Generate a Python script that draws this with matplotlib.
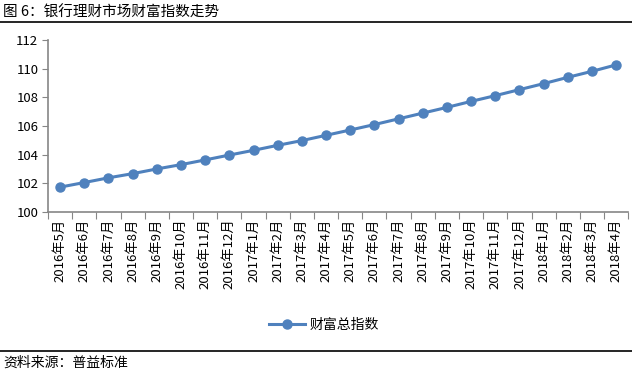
import matplotlib
matplotlib.use("Agg")
import matplotlib.pyplot as plt
from matplotlib.lines import Line2D

plt.rcParams['font.family'] = ['Noto Sans CJK SC', 'DejaVu Sans']

# 月份标签
months = (["2016年%d月" % m for m in range(5, 13)]
          + ["2017年%d月" % m for m in range(1, 13)]
          + ["2018年%d月" % m for m in range(1, 5)])

# 财富总指数
wealth_index = [101.73, 102.05, 102.38, 102.67, 103.00, 103.30, 103.63, 103.97,
                104.30, 104.65, 104.98, 105.35, 105.72, 106.10, 106.50, 106.90,
                107.30, 107.72, 108.12, 108.54, 108.96, 109.40, 109.82, 110.27]

blue = "#4F81BD"
axis_gray = "#868686"

fig = plt.figure(figsize=(6.32, 3.75), dpi=100)
ax = fig.add_axes([0.076, 0.435, 0.918, 0.458])

x = list(range(len(months)))
ax.plot(x, wealth_index, color=blue, linewidth=2.2, marker="o", markersize=6.5,
        label="财富总指数")

ax.set_xlim(-0.5, len(months) - 0.5)
ax.set_ylim(100, 112)
ax.set_yticks(range(100, 113, 2))
ax.tick_params(axis="y", labelsize=9.5, length=4, color=axis_gray, pad=3)

# x轴：刻度在类别之间，标签在类别中心
ax.set_xticks([i - 0.5 for i in range(len(months) + 1)])
ax.set_xticklabels([])
ax.set_xticks(x, minor=True)
ax.set_xticklabels(months, minor=True, rotation=90, fontsize=9.5)
ax.tick_params(axis="x", which="major", length=5, color=axis_gray)
ax.tick_params(axis="x", which="minor", length=0, pad=5)

for side in ["top", "right"]:
    ax.spines[side].set_visible(False)
for side in ["left", "bottom"]:
    ax.spines[side].set_color(axis_gray)
    ax.spines[side].set_linewidth(1.2)

ax.legend(loc="center", bbox_to_anchor=(0.476, -0.657), frameon=False,
          fontsize=10, handlelength=2.6, handletextpad=0.3)

# 标题和来源
fig.text(0.005, 0.967, "图 6：银行理财市场财富指数走势", fontsize=10.5, va="center", ha="left")
fig.add_artist(Line2D([0, 1], [0.941, 0.941], color="black", linewidth=1.2))
fig.add_artist(Line2D([0, 1], [0.064, 0.064], color="black", linewidth=1.2))
fig.text(0.005, 0.032, "资料来源：普益标准", fontsize=10, va="center", ha="left")

fig.savefig("out.png", dpi=100)
